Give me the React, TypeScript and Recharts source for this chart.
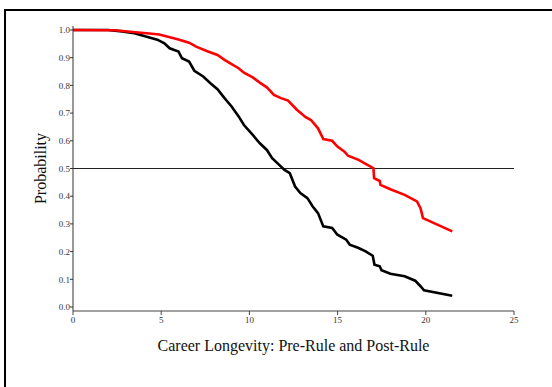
import { LineChart, Line, XAxis, YAxis, ReferenceLine, Label } from 'recharts';

// Pre-rule survival curve (black)
const preYears = [0, 1.98, 2.78, 3.48, 4.18, 4.78, 5.18, 5.48, 5.98, 6.18, 6.58, 6.88, 7.38, 7.79, 8.19, 8.59, 8.99, 9.39, 9.69, 10.19, 10.59, 10.99, 11.29, 11.69, 11.99, 12.29, 12.59, 12.89, 13.29, 13.59, 13.89, 14.19, 14.69, 14.99, 15.49, 15.69, 16.19, 16.59, 16.99, 17.09, 17.39, 17.49, 17.99, 18.8, 19.4, 19.7, 19.9, 21.5];
const preProb = [1.0, 1.0, 0.995, 0.988, 0.976, 0.965, 0.952, 0.934, 0.922, 0.898, 0.886, 0.853, 0.832, 0.808, 0.786, 0.754, 0.724, 0.688, 0.657, 0.621, 0.591, 0.567, 0.537, 0.513, 0.495, 0.483, 0.435, 0.411, 0.393, 0.363, 0.339, 0.291, 0.285, 0.261, 0.243, 0.225, 0.213, 0.201, 0.185, 0.153, 0.147, 0.133, 0.12, 0.111, 0.095, 0.075, 0.06, 0.041];

// Post-rule survival curve (red)
const postYears = [0, 2.38, 3.38, 4.18, 4.88, 5.38, 5.98, 6.58, 6.98, 7.58, 8.19, 8.59, 8.99, 9.39, 9.69, 10.19, 10.59, 10.99, 11.39, 11.79, 12.19, 12.69, 13.19, 13.49, 13.89, 14.19, 14.69, 14.99, 15.39, 15.59, 16.19, 16.59, 17.03, 17.07, 17.39, 17.43, 17.99, 18.8, 19.5, 19.7, 19.84, 21.5];
const postProb = [1.0, 0.999, 0.993, 0.988, 0.984, 0.976, 0.966, 0.954, 0.94, 0.924, 0.91, 0.892, 0.877, 0.862, 0.846, 0.829, 0.81, 0.793, 0.766, 0.754, 0.745, 0.712, 0.685, 0.675, 0.645, 0.606, 0.6, 0.579, 0.561, 0.546, 0.531, 0.517, 0.501, 0.465, 0.455, 0.441, 0.425, 0.405, 0.381, 0.357, 0.321, 0.273];

const xTicks = [0, 5, 10, 15, 20, 25];
const yTicks = [0, 0.1, 0.2, 0.3, 0.4, 0.5, 0.6, 0.7, 0.8, 0.9, 1.0];

const preData = preYears.map((t, i) => ({ t, p: preProb[i] }));
const postData = postYears.map((t, i) => ({ t, p: postProb[i] }));

const FONT = '"Liberation Serif", "Times New Roman", serif';
const tickStyle = { fontSize: 9, fill: '#333', fontFamily: FONT };

const YTitle = ({ viewBox }: any) => {
  const x = viewBox.x + viewBox.width - 27;
  const y = viewBox.y + viewBox.height / 2;
  return (
    <text
      x={x}
      y={y}
      transform={`rotate(-90, ${x}, ${y})`}
      textAnchor="middle"
      fontSize={16}
      fontFamily={FONT}
      fill="#111"
    >
      Probability
    </text>
  );
};

const App = () => {
  return (
    <div style={{ position: 'absolute', left: 0, top: 0, width: 552, height: 387, overflow: 'hidden', background: '#fff', fontFamily: FONT }}>
      <div
        style={{
          position: 'absolute',
          left: 4,
          top: 9,
          width: 700,
          height: 600,
          border: '2px solid #000',
        }}
      />
      <div style={{ position: 'absolute', left: 0, top: 0 }}>
        <LineChart
          width={552}
          height={387}
          margin={{ top: 26, right: 38, left: 0, bottom: 56 }}
          style={{ fontFamily: FONT }}
        >
          <XAxis
            type="number"
            dataKey="t"
            domain={[0, 25]}
            ticks={xTicks}
            tick={tickStyle}
            tickSize={4}
            tickMargin={2}
            height={20}
            stroke="#444"
            interval={0}
            allowDuplicatedCategory={false}
          >
            <Label
              value="Career Longevity: Pre-Rule and Post-Rule"
              position="bottom"
              offset={9}
              style={{ fontSize: 16, fontFamily: FONT, fill: '#111' }}
            />
          </XAxis>
          <XAxis xAxisId="top" orientation="top" type="number" domain={[0, 25]} height={0} tick={false} tickLine={false} stroke="#111" />
          <YAxis
            type="number"
            domain={[-0.0144, 1.0144]}
            ticks={yTicks}
            tick={tickStyle}
            tickSize={3}
            tickMargin={0}
            width={73}
            stroke="#333"
            interval={0}
            tickFormatter={(v: number) => v.toFixed(1)}
          >
            <Label content={<YTitle />} />
          </YAxis>
          <YAxis yAxisId="right" orientation="right" type="number" domain={[0, 1]} width={0} tick={false} tickLine={false} stroke="#888" />
          <ReferenceLine y={0.5} stroke="#222" strokeWidth={1} />
          <Line
            data={preData}
            dataKey="p"
            stroke="#000"
            strokeWidth={2.6}
            dot={false}
            type="linear"
            isAnimationActive={false}
          />
          <Line
            data={postData}
            dataKey="p"
            stroke="#ff0000"
            strokeWidth={2.6}
            dot={false}
            type="linear"
            isAnimationActive={false}
          />
        </LineChart>
      </div>
    </div>
  );
};

export default App;
